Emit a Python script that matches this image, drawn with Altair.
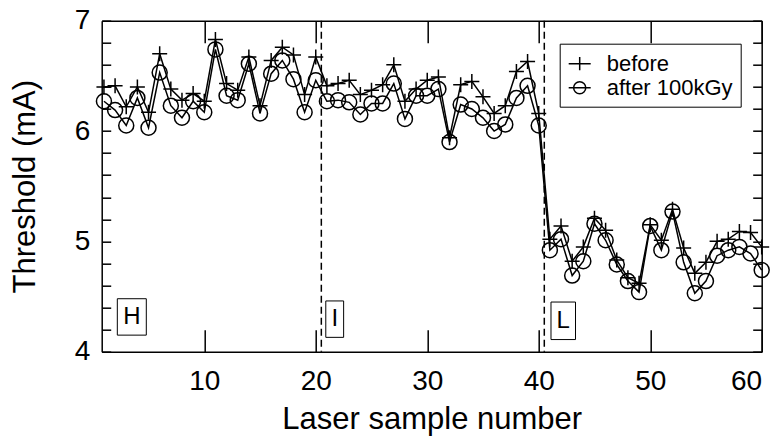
import altair as alt
import pandas as pd

# ---- data ----
sample = list(range(1, 61))
before = [6.40, 6.41, 6.22, 6.40, 6.17, 6.70, 6.38, 6.28, 6.34, 6.27,
          6.83, 6.43, 6.37, 6.67, 6.23, 6.64, 6.76, 6.69, 6.33, 6.67,
          6.41, 6.43, 6.46, 6.33, 6.37, 6.42, 6.60, 6.27, 6.38, 6.46,
          6.49, 5.94, 6.42, 6.45, 6.31, 6.16, 6.23, 6.54, 6.63, 6.16,
          5.02, 5.14, 4.82, 4.95, 5.21, 5.10, 4.83, 4.67, 4.62, 5.15,
          5.01, 5.29, 4.94, 4.71, 4.81, 5.00, 5.02, 5.09, 5.08, 4.95]
after = [6.27, 6.19, 6.05, 6.30, 6.03, 6.53, 6.23, 6.12, 6.27, 6.17,
         6.74, 6.32, 6.28, 6.61, 6.16, 6.52, 6.64, 6.47, 6.17, 6.46,
         6.27, 6.28, 6.26, 6.15, 6.25, 6.25, 6.43, 6.11, 6.32, 6.32,
         6.38, 5.90, 6.24, 6.20, 6.12, 6.00, 6.06, 6.30, 6.41, 6.05,
         4.92, 5.02, 4.69, 4.82, 5.16, 5.01, 4.79, 4.64, 4.54, 5.14,
         4.92, 5.27, 4.81, 4.53, 4.64, 4.87, 4.92, 4.95, 4.89, 4.74]
series_names = ["before", "after 100kGy"]

group_bounds = [20.5, 40.5]
group_labels = ["H", "I", "L"]
box_x0 = [2.2, 20.9, 41.1]
box_x1 = [4.8, 22.5, 43.3]
box_y0 = [4.15, 4.13, 4.11]
box_y1 = [4.48, 4.46, 4.45]

x_ticks = [10, 20, 30, 40, 50, 60]
y_ticks = [4.0, 4.2, 4.4, 4.6, 4.8, 5.0, 5.2, 5.4, 5.6, 5.8, 6.0,
           6.2, 6.4, 6.6, 6.8, 7.0]

# ---- tables ----
df = pd.DataFrame({
    "sample": sample + sample,
    "threshold": before + after,
    "series": [series_names[0]] * len(sample) + [series_names[1]] * len(sample),
})
bounds_df = pd.DataFrame({"sample": group_bounds})
boxes_df = pd.DataFrame({
    "x0": box_x0, "x1": box_x1, "y0": box_y0, "y1": box_y1,
    "label": group_labels,
})
boxes_df["xc"] = (boxes_df["x0"] + boxes_df["x1"]) / 2
boxes_df["yc"] = (boxes_df["y0"] + boxes_df["y1"]) / 2

FONT = "Liberation Sans"
PLUS = "M-1,0L1,0M0,-1L0,1"
LEG_PLUS = "M-1,0L1,0M0,-0.6L0,0.6"
LEG_CIRCLE = "M-1,0L1,0M-0.55,0A0.55,0.55,0,1,1,0.55,0A0.55,0.55,0,1,1,-0.55,0"

xscale = alt.Scale(domain=[0.8, 60], nice=False, zero=False)
yscale = alt.Scale(domain=[4, 7], nice=False, zero=False)

common_axis = dict(grid=False, domainColor="black", domainWidth=1.5,
                   tickColor="black", tickWidth=1.5)

x_bottom = alt.Axis(values=x_ticks, tickSize=alt.ExprRef(expr="-22"),
                    labelPadding=38, labelFontSize=28, labelFont=FONT,
                    labelColor="black", title="Laser sample number",
                    titleFontSize=31, titleFont=FONT, titleFontWeight="normal",
                    titleColor="black", titlePadding=9, **common_axis)
y_left = alt.Axis(values=y_ticks, tickSize=alt.ExprRef(expr="-9"),
                  labelExpr="datum.value % 1 == 0 ? format(datum.value, '.0f') : ''",
                  labelPadding=21, labelFontSize=28, labelFont=FONT,
                  labelColor="black", title="Threshold (mA)",
                  titleFontSize=31, titleFont=FONT, titleFontWeight="normal",
                  titleColor="black", titlePadding=33, **common_axis)
x_top = alt.Axis(orient="top", values=x_ticks, tickSize=alt.ExprRef(expr="-22"),
                 labels=False, title=None, **common_axis)
y_right = alt.Axis(orient="right", values=y_ticks, tickSize=alt.ExprRef(expr="-9"),
                   labels=False, title=None, **common_axis)

lines = alt.Chart(df).mark_line(color="black", strokeWidth=1.5).encode(
    x=alt.X("sample:Q", scale=xscale, axis=x_top),
    y=alt.Y("threshold:Q", scale=yscale, axis=y_right),
    detail="series:N",
)

points = alt.Chart(df).mark_point(filled=False, size=225, strokeWidth=1.5,
                                  color="black", opacity=1).encode(
    x=alt.X("sample:Q", scale=xscale, axis=x_bottom),
    y=alt.Y("threshold:Q", scale=yscale, axis=y_left),
    shape=alt.Shape("series:N",
                    scale=alt.Scale(domain=series_names, range=[PLUS, "circle"]),
                    legend=None),
)

legend_layer = alt.Chart(df).mark_point(filled=False, strokeWidth=1.5,
                                        color="black", opacity=0).encode(
    x=alt.X("sample:Q", scale=xscale, axis=None),
    y=alt.Y("threshold:Q", scale=yscale, axis=None),
    shape=alt.Shape("series:N",
                    scale=alt.Scale(domain=series_names,
                                    range=[LEG_PLUS, LEG_CIRCLE]),
                    legend=alt.Legend(title=None, orient="none",
                                      legendX=458, legendY=23,
                                      fillColor="white", strokeColor="black",
                                      padding=8, rowPadding=1,
                                      labelFontSize=22, labelFont=FONT,
                                      labelColor="black", labelOffset=15,
                                      symbolSize=484, symbolStrokeWidth=1.5,
                                      symbolOpacity=1, symbolStrokeColor="black",
                                      symbolFillColor="transparent")),
)

rules = alt.Chart(bounds_df).mark_rule(color="black", strokeWidth=1.5,
                                       strokeDash=[7, 4]).encode(
    x=alt.X("sample:Q", scale=xscale, axis=None),
)

boxes = alt.Chart(boxes_df).mark_rect(fill="white", stroke="black",
                                      strokeWidth=1).encode(
    x=alt.X("x0:Q", scale=xscale, axis=None),
    x2="x1:Q",
    y=alt.Y("y0:Q", scale=yscale, axis=None),
    y2="y1:Q",
)

box_text = alt.Chart(boxes_df).mark_text(font=FONT, fontSize=24,
                                         color="black", baseline="middle",
                                         align="center").encode(
    x=alt.X("xc:Q", scale=xscale, axis=None),
    y=alt.Y("yc:Q", scale=yscale, axis=None),
    text="label:N",
)

chart = alt.layer(rules, lines, points, legend_layer, boxes, box_text).resolve_axis(
    x="independent", y="independent"
).resolve_scale(shape="independent").properties(
    width=660, height=331,
    autosize=alt.AutoSizeParams(type="none"),
    padding={"left": 93.7, "top": 12.7, "right": 10.3, "bottom": 84},
).configure_view(stroke=None)

chart.save("out.html", embed_options={"renderer": "svg", "actions": False})
